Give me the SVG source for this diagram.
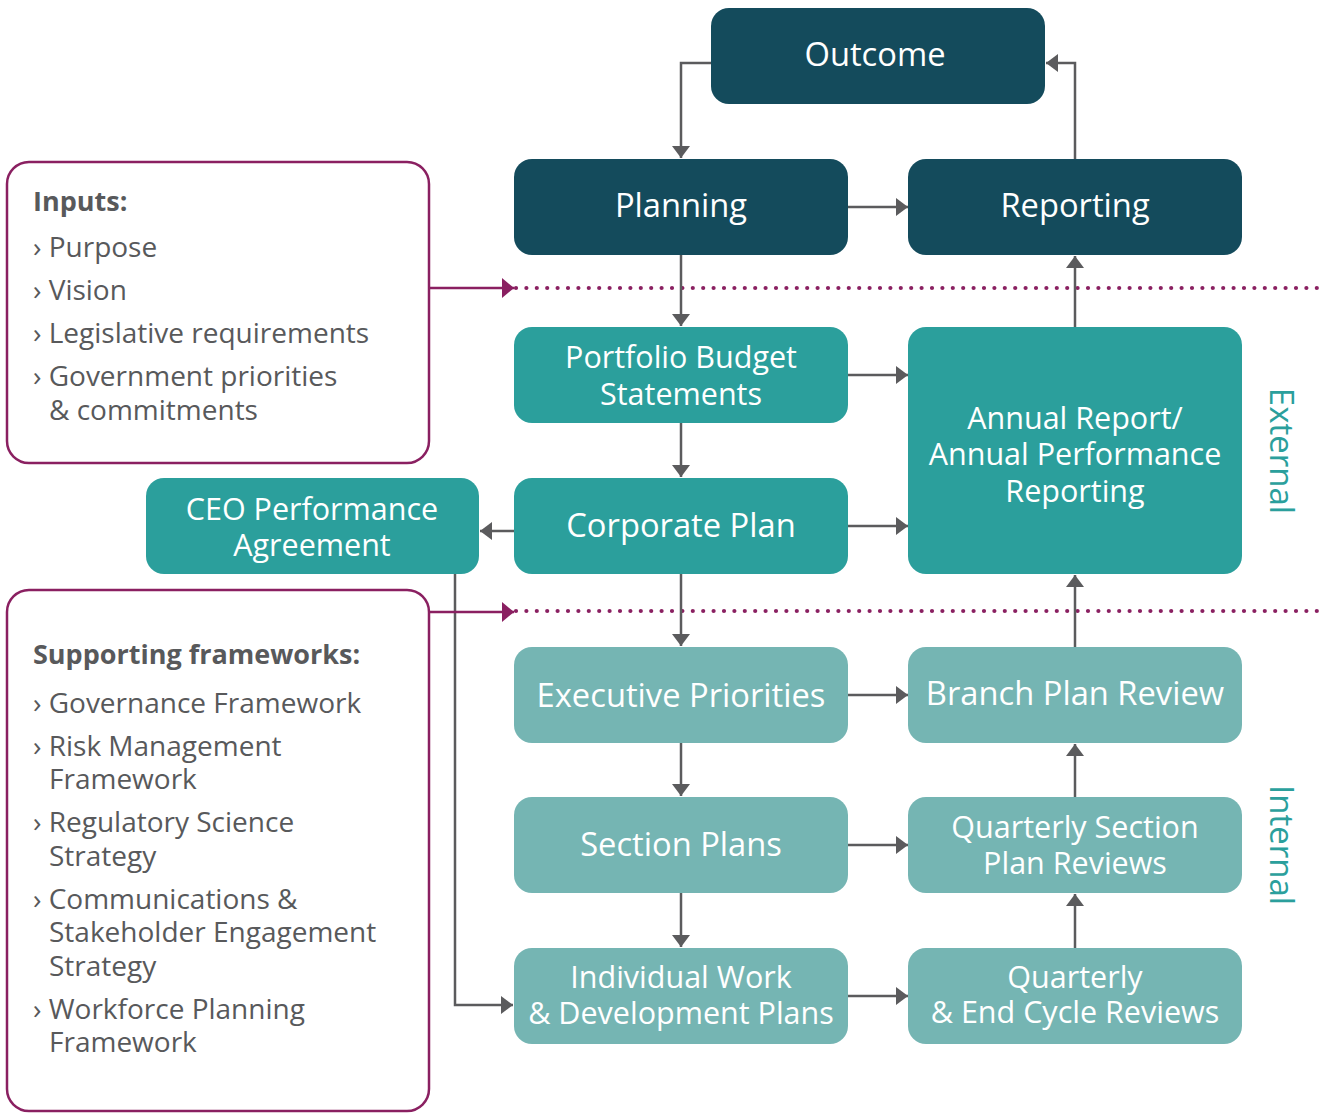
<svg xmlns="http://www.w3.org/2000/svg" width="1330" height="1113" viewBox="0 0 1330 1113">
<defs>
<style>
.dark{fill:#144b5c}
.mid{fill:#2b9f9c}
.light{fill:#75b5b3}
.nt{font-family:"Open Sans","Liberation Sans",sans-serif;font-size:30.5px;fill:#ffffff;text-anchor:middle}
.n1{font-size:32.7px}
.side{font-family:"Open Sans","Liberation Sans",sans-serif;font-size:28px;fill:#58595b}
.sideb{font-weight:bold;font-size:27px}
.box{fill:#ffffff;stroke:#8a2061;stroke-width:2.5}
.conn{fill:none;stroke:#5b5b5d;stroke-width:2.5}
.pconn{fill:none;stroke:#8a2061;stroke-width:2.5}
.dots{fill:none;stroke:#8a2061;stroke-width:4.2;stroke-linecap:round;stroke-dasharray:0 10.4}
.lab{font-family:"Open Sans","Liberation Sans",sans-serif;font-size:33px;fill:#2b9f9c;text-anchor:middle}
</style>
<marker id="ahg" viewBox="0 0 12 18" refX="12" refY="9" markerWidth="12" markerHeight="18" markerUnits="userSpaceOnUse" orient="auto">
<path d="M0,0 L12,9 L0,18 z" fill="#5b5b5d"/>
</marker>
<marker id="ahp" viewBox="0 0 12 20" refX="12" refY="10" markerWidth="12" markerHeight="20" markerUnits="userSpaceOnUse" orient="auto">
<path d="M0,0 L12,10 L0,20 z" fill="#8a2061"/>
</marker>
</defs>

<g id="divider-lines">
<line class="dots" x1="516" y1="288" x2="1326" y2="288"/>
<line class="dots" x1="516" y1="611" x2="1326" y2="611"/>
</g>

<g id="connectors">
<path class="conn" d="M711,63 H681 V158" marker-end="url(#ahg)"/>
<path class="conn" d="M1075,159 V63 H1046" marker-end="url(#ahg)"/>
<path class="conn" d="M848,207 H908" marker-end="url(#ahg)"/>
<path class="conn" d="M681,255 V326" marker-end="url(#ahg)"/>
<path class="conn" d="M1075,327 V256" marker-end="url(#ahg)"/>
<path class="conn" d="M848,375 H908" marker-end="url(#ahg)"/>
<path class="conn" d="M681,423 V477" marker-end="url(#ahg)"/>
<path class="conn" d="M848,526 H908" marker-end="url(#ahg)"/>
<path class="conn" d="M514,531 H480" marker-end="url(#ahg)"/>
<path class="conn" d="M681,574 V646" marker-end="url(#ahg)"/>
<path class="conn" d="M455,574 V1005 H513" marker-end="url(#ahg)"/>
<path class="conn" d="M848,695 H908" marker-end="url(#ahg)"/>
<path class="conn" d="M1075,647 V575" marker-end="url(#ahg)"/>
<path class="conn" d="M681,743 V796" marker-end="url(#ahg)"/>
<path class="conn" d="M848,845 H908" marker-end="url(#ahg)"/>
<path class="conn" d="M1075,797 V744" marker-end="url(#ahg)"/>
<path class="conn" d="M681,893 V947" marker-end="url(#ahg)"/>
<path class="conn" d="M848,996 H908" marker-end="url(#ahg)"/>
<path class="conn" d="M1075,948 V894" marker-end="url(#ahg)"/>
<path class="pconn" d="M430,288 H514" marker-end="url(#ahp)"/>
<path class="pconn" d="M430,612 H514" marker-end="url(#ahp)"/>
</g>

<g id="inputs">
<rect class="box" x="7" y="162" width="422" height="301" rx="22"/>
<text class="side sideb" x="33" y="211">Inputs:</text>
<text class="side" x="33" y="257">› Purpose</text>
<text class="side" x="33" y="300">› Vision</text>
<text class="side" x="33" y="343">› Legislative requirements</text>
<text class="side" x="33" y="386">› Government priorities</text>
<text class="side" x="49" y="420">&amp; commitments</text>
</g>

<g id="supporting-frameworks">
<rect class="box" x="7" y="590" width="422" height="521" rx="22"/>
<text class="side sideb" x="33" y="664">Supporting frameworks:</text>
<text class="side" x="33" y="713">› Governance Framework</text>
<text class="side" x="33" y="756">› Risk Management</text>
<text class="side" x="49" y="789">Framework</text>
<text class="side" x="33" y="832">› Regulatory Science</text>
<text class="side" x="49" y="866">Strategy</text>
<text class="side" x="33" y="909">› Communications &amp;</text>
<text class="side" x="49" y="942">Stakeholder Engagement</text>
<text class="side" x="49" y="976">Strategy</text>
<text class="side" x="33" y="1019">› Workforce Planning</text>
<text class="side" x="49" y="1052">Framework</text>
</g>

<g id="outcome">
<rect class="dark" x="711" y="8" width="334" height="96" rx="18"/>
<text class="nt n1" x="875" y="66">Outcome</text>
</g>
<g id="planning">
<rect class="dark" x="514" y="159" width="334" height="96" rx="18"/>
<text class="nt n1" x="681" y="217">Planning</text>
</g>
<g id="reporting">
<rect class="dark" x="908" y="159" width="334" height="96" rx="18"/>
<text class="nt n1" x="1075" y="217">Reporting</text>
</g>
<g id="portfolio-budget-statements">
<rect class="mid" x="514" y="327" width="334" height="96" rx="18"/>
<text class="nt" x="681" y="368">Portfolio Budget</text>
<text class="nt" x="681" y="405">Statements</text>
</g>
<g id="corporate-plan">
<rect class="mid" x="514" y="478" width="334" height="96" rx="18"/>
<text class="nt n1" x="681" y="537">Corporate Plan</text>
</g>
<g id="ceo-performance-agreement">
<rect class="mid" x="146" y="478" width="333" height="96" rx="18"/>
<text class="nt" x="312" y="520">CEO Performance</text>
<text class="nt" x="312" y="556">Agreement</text>
</g>
<g id="annual-report">
<rect class="mid" x="908" y="327" width="334" height="247" rx="18"/>
<text class="nt" x="1075" y="429">Annual Report/</text>
<text class="nt" x="1075" y="465">Annual Performance</text>
<text class="nt" x="1075" y="502">Reporting</text>
</g>
<g id="executive-priorities">
<rect class="light" x="514" y="647" width="334" height="96" rx="18"/>
<text class="nt n1" x="681" y="707">Executive Priorities</text>
</g>
<g id="branch-plan-review">
<rect class="light" x="908" y="647" width="334" height="96" rx="18"/>
<text class="nt n1" x="1075" y="705">Branch Plan Review</text>
</g>
<g id="section-plans">
<rect class="light" x="514" y="797" width="334" height="96" rx="18"/>
<text class="nt n1" x="681" y="856">Section Plans</text>
</g>
<g id="quarterly-section-plan-reviews">
<rect class="light" x="908" y="797" width="334" height="96" rx="18"/>
<text class="nt" x="1075" y="838">Quarterly Section</text>
<text class="nt" x="1075" y="874">Plan Reviews</text>
</g>
<g id="individual-work-plans">
<rect class="light" x="514" y="948" width="334" height="96" rx="18"/>
<text class="nt" x="681" y="988">Individual Work</text>
<text class="nt" x="681" y="1024">&amp; Development Plans</text>
</g>
<g id="quarterly-end-cycle-reviews">
<rect class="light" x="908" y="948" width="334" height="96" rx="18"/>
<text class="nt" x="1075" y="988">Quarterly</text>
<text class="nt" x="1075" y="1023">&amp; End Cycle Reviews</text>
</g>

<g id="labels">
<text class="lab" transform="translate(1270,451) rotate(90)">External</text>
<text class="lab" transform="translate(1270,845) rotate(90)">Internal</text>
</g>
</svg>
